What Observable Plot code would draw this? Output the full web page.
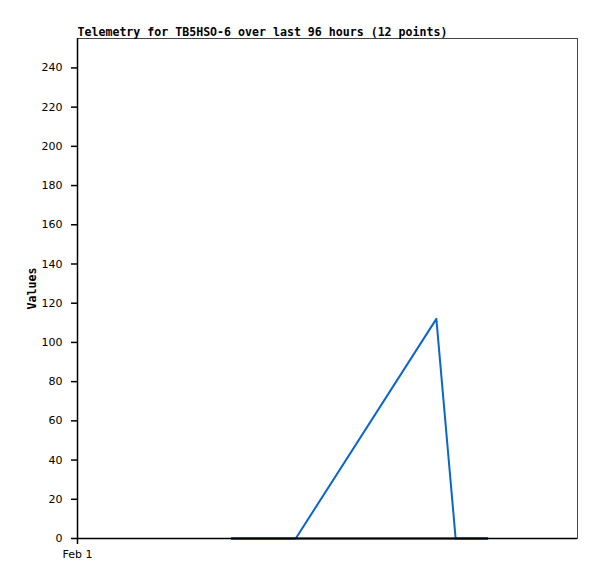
<!DOCTYPE html>
<html><head><meta charset="utf-8">
<script src="https://cdn.jsdelivr.net/npm/d3@7"></script>
<script src="https://cdn.jsdelivr.net/npm/@observablehq/plot@0.6"></script>
<style>body{margin:0;background:#fff}</style>
</head><body><div id="chart"></div>
<script>
const titleText = "Telemetry for TB5HSO-6 over last 96 hours (12 points)";
const yLabel = "Values";
const start = new Date(Date.UTC(2024, 1, 1, 0, 0));
const hoursOffset = [29.6, 35.7, 41.9, 68.9, 72.6, 78.7];
const seriesBlue = [0, 0, 0, 112, 0, 0];
const seriesBlack = [0, 0, 0, 0, 0, 0];
const yTicks = [0, 20, 40, 60, 80, 100, 120, 140, 160, 180, 200, 220, 240];
const xTickLabels = ["Feb 1"];
const xTicks = [start];

const H = 3600 * 1000;
const end = new Date(+start + 96 * H);
const blue = hoursOffset.map((h, i) => ({t: new Date(+start + h * H), v: seriesBlue[i]}));
const black = hoursOffset.map((h, i) => ({t: new Date(+start + h * H), v: seriesBlack[i]}));

const chart = Plot.plot({
  width: 597, height: 579,
  marginLeft: 77, marginRight: 20, marginTop: 38, marginBottom: 41,
  style: {fontFamily: "'DejaVu Sans', sans-serif", fontSize: "11px", color: "#000", background: "#fff"},
  x: {type: "utc", domain: [start, end]},
  y: {domain: [0, 255]},
  marks: [
    Plot.frame({stroke: "#444", strokeWidth: 1}),
    Plot.line(blue, {x: "t", y: "v", stroke: "#0a66cc", strokeWidth: 2}),
    Plot.line(black, {x: "t", y: "v", stroke: "#000", strokeWidth: 2.2}),
    Plot.ruleX([start], {stroke: "#000", strokeWidth: 1.5}),
    Plot.ruleY([0], {stroke: "#000", strokeWidth: 1.5}),
    Plot.axisY(yTicks, {tickSize: 6, tickPadding: 9, label: null, stroke: "#000", strokeWidth: 1.5, fontSize: 11}),
    Plot.axisX(xTicks, {tickSize: 6, tickPadding: 6, label: null, tickFormat: (d, i) => xTickLabels[i], stroke: "#000", strokeWidth: 1.5, fontSize: 11}),
    Plot.text([titleText], {frameAnchor: "top-left", dy: -3, lineAnchor: "bottom", textAnchor: "start", fontFamily: "'DejaVu Sans Mono', monospace", fontWeight: "bold", fontSize: 11.6}),
    Plot.text([yLabel], {frameAnchor: "left", dx: -45, rotate: -90, textAnchor: "middle", fontFamily: "'DejaVu Sans Mono', monospace", fontWeight: "bold", fontSize: 11.6})
  ]
});
document.getElementById("chart").appendChild(chart);
</script>
</body></html>
